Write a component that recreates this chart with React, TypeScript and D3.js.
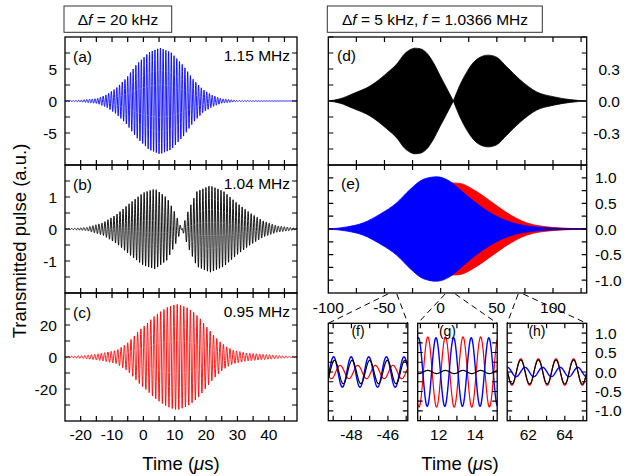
import React from "react";
import * as d3 from "d3";

const FONT = '"Liberation Sans", Arial, Helvetica, sans-serif';

// ---------- Data ----------
// Left column (Δf = 20 kHz): envelope knots (time in μs, amplitude in a.u.) and carrier (MHz)
const aFreqMHz = 1.15;
const aEnvTimes = [-25, -19.7, -14.7, -11.7, -8.7, -5.4, -2.2, 1.8, 5.3, 8.8, 12.8, 16, 19, 22, 25, 30, 49];
const aEnvAmps = [0, 0.15, 0.4, 1.0, 2.0, 3.6, 5.7, 7.6, 8.3, 7.6, 5.5, 3.3, 1.8, 0.9, 0.35, 0.08, 0];

const bFreqMHz = 1.04;
const bEnvTimes = [-25, -18, -12.8, -8.5, -4.2, 0, 3.7, 7.5, 10.1, 12.3, 14.4, 17.1, 21.3, 25.6, 29.8, 34.1, 38.3, 42.6, 49];
const bEnvAmps = [0, 0.05, 0.2, 0.46, 0.82, 1.14, 1.26, 0.98, 0.51, 0, -0.6, -1.19, -1.37, -1.19, -0.82, -0.5, -0.25, -0.1, -0.02];

const cFreqMHz = 0.95;
const cEnvTimes = [-25, -19, -14, -8.5, -5.3, -3.2, -1.1, 1.1, 3.2, 5.3, 7.5, 9.6, 11, 13.9, 16, 18.1, 20.2, 22.4, 24.5, 26.6, 28.8, 33, 39.4, 45, 49];
const cEnvAmps = [0.3, 0.9, 2.1, 4.2, 8.3, 12.5, 17.1, 20.8, 25, 28.1, 30.9, 32.5, 33, 30.9, 28, 24, 18.8, 13.6, 9.4, 6.3, 4.2, 2.5, 1.5, 0.6, 0.3];

const leftFreqLabels = ["1.15 MHz", "1.04 MHz", "0.95 MHz"];
const leftPanelLabels = ["(a)", "(b)", "(c)"];
const leftXTickLabels = [-20, -10, 0, 10, 20, 30, 40];
const aYTickLabels = [-5, 0, 5];
const bYTickLabels = [-1, 0, 1];
const cYTickLabels = [-20, 0, 20];

// Right column (Δf = 5 kHz, f = 1.0366 MHz): envelopes (first hump / second hump of (d))
const dEnvTimes1 = [-100, -89.6, -77.7, -62.9, -48, -38, -33.2, -27.3, -22.8, -18.4, -12.4, -6.5, -0.6, 5.4, 11.3];
const dEnvAmps1 = [0, 0.02, 0.07, 0.14, 0.26, 0.36, 0.43, 0.48, 0.495, 0.49, 0.45, 0.36, 0.24, 0.12, 0];
const dEnvTimes2 = [11.3, 17.2, 23.2, 29.1, 35, 42.4, 49.9, 58.8, 70.6, 85.5, 100.3, 115.1, 130];
const dEnvAmps2 = [0, 0.15, 0.27, 0.36, 0.41, 0.43, 0.41, 0.32, 0.2, 0.085, 0.04, 0.013, 0];

const eBlueTimes = [-100, -83.6, -68.8, -54, -39.2, -27.3, -15.4, -3.5, 8.3, 17.2, 29.1, 43.9, 58.8, 76.6, 100, 130];
const eBlueAmps = [0, 0.04, 0.12, 0.29, 0.51, 0.77, 0.97, 1.02, 0.93, 0.77, 0.55, 0.32, 0.16, 0.06, 0.02, 0];
const eRedTimes = [-100, -80, -60, -47, -30, -15, 0, 10, 17.2, 29.1, 43.9, 58.8, 76.6, 100, 117.6, 130];
const eRedAmps = [0, 0.02, 0.08, 0.17, 0.42, 0.68, 0.85, 0.9, 0.89, 0.77, 0.55, 0.32, 0.12, 0.03, 0.01, 0];

const rightFreqMHz = 1.0366;
const dYTickLabels = [-0.3, 0, 0.3];
const eYTickLabels = [-1, -0.5, 0, 0.5, 1];
const rightXTickLabels = [-100, -50, 0, 50, 100];

// Insets (f), (g), (h): windows and oscillation amplitude / peak time of each trace
const insetNames = ["(f)", "(g)", "(h)"];
const insetCenters = [-47.09, 13.03, 63.02];
const insetXTickLabels = [[-48, -46], [12, 14], [62, 64]];
const insetBlueAmp = [0.39, 0.88, 0.12];
const insetBluePeak = [-47.05, 12.82, 60.85];
const insetRedAmp = [0.17, 0.9, 0.34];
const insetRedPeak = [-46.69, 12.37, 62.55];
const insetBlackAmp = [0.3, 0.04, 0.31];
const insetBlackPeak = [-47.0, 12.37, 62.55];
// Time marks on panel (e) axis where the dashed zoom connectors start
const connectorTops = [[-47, -39], [4, 13], [69, 73.5]];
const insetYTickLabels = [-1, -0.5, 0, 0.5, 1];

// ---------- helpers ----------
function oscPoints(times: number[], amps: number[], freq: number, domain: number[], perCycle = 20) {
  const env = d3.scaleLinear().domain(times).range(amps).clamp(true);
  const n = Math.ceil((domain[1] - domain[0]) * freq * perCycle);
  return d3.range(n + 1).map((i) => {
    const t = domain[0] + ((domain[1] - domain[0]) * i) / n;
    return [t, env(t) * Math.sin(2 * Math.PI * freq * t)] as [number, number];
  });
}

function cosPoints(amp: number, peak: number, freq: number, domain: number[], n = 240) {
  return d3.range(n + 1).map((i) => {
    const t = domain[0] + ((domain[1] - domain[0]) * i) / n;
    return [t, amp * Math.cos(2 * Math.PI * freq * (t - peak))] as [number, number];
  });
}

function Frame({ xs, ys, xTicks, yTicks, tl = 5 }: any) {
  const [x0, x1] = xs.range();
  const [y1, y0] = ys.range();
  let d = "";
  xTicks.forEach((t: number) => {
    const x = xs(t);
    d += `M${x},${y0}V${y0 + tl}M${x},${y1}V${y1 - tl}`;
  });
  yTicks.forEach((v: number) => {
    const y = ys(v);
    d += `M${x0},${y}H${x0 + tl}M${x1},${y}H${x1 - tl}`;
  });
  return (
    <g>
      <path d={d} stroke="#000" strokeWidth={1.2} fill="none" />
      <rect x={x0} y={y0} width={x1 - x0} height={y1 - y0} fill="none" stroke="#000" strokeWidth={1.3} />
    </g>
  );
}

const fmt1 = d3.format(".1f");
const fmtMinus = (s: string) => s.replace("−", "-");
const pairs = (ts: number[], vs: number[]) => ts.map((t, i) => [t, vs[i]] as [number, number]);

export default function App() {
  const W = 635, H = 476;
  const fs = 15.5;

  // Left column scales
  const xL = d3.scaleLinear().domain([-25, 49]).range([65, 297]);
  const ya = d3.scaleLinear().domain([-10, 10]).range([165, 37]);
  const yb = d3.scaleLinear().domain([-2, 2]).range([293, 165]);
  const yc = d3.scaleLinear().domain([-40, 40]).range([421, 293]);

  // Right column scales
  const xR = d3.scaleLinear().domain([-100, 130]).range([328.3, 586.7]);
  const yd = d3.scaleLinear().domain([-0.6, 0.6]).range([165, 37]);
  const ye = d3.scaleLinear().domain([-1.25, 1.25]).range([293, 165]);

  const insetX0 = [328.3, 417.7, 507.2];
  const insetW = 79.5;
  const insetHalf = insetW / 2 / 18.25;
  const yI = d3.scaleLinear().domain([-1.25, 1.25]).range([420.7, 323.3]);
  const xIs = insetCenters.map((c, i) =>
    d3.scaleLinear().domain([c - insetHalf, c + insetHalf]).range([insetX0[i], insetX0[i] + insetW])
  );

  const dom = xL.domain();
  const aPts = oscPoints(aEnvTimes, aEnvAmps, aFreqMHz, dom);
  const bPts = oscPoints(bEnvTimes, bEnvAmps, bFreqMHz, dom);
  const cPts = oscPoints(cEnvTimes, cEnvAmps, cFreqMHz, dom);

  const lineA = d3.line<[number, number]>().x((p) => xL(p[0])).y((p) => ya(p[1]));
  const lineB = d3.line<[number, number]>().x((p) => xL(p[0])).y((p) => yb(p[1]));
  const lineC = d3.line<[number, number]>().x((p) => xL(p[0])).y((p) => yc(p[1]));

  const areaD = d3.area<[number, number]>().x((p) => xR(p[0])).y0((p) => yd(-p[1])).y1((p) => yd(p[1])).curve(d3.curveMonotoneX);
  const areaE = d3.area<[number, number]>().x((p) => xR(p[0])).y0((p) => ye(-p[1])).y1((p) => ye(p[1])).curve(d3.curveMonotoneX);

  const leftXTicks = d3.range(-20, 49, 5);
  const rightXTicks = d3.range(-75, 130, 25);

  const clip = (id: string, xs: any, ys: any) => {
    const [x0, x1] = xs.range();
    const [y1, y0] = ys.range();
    return (
      <clipPath id={id} key={id}>
        <rect x={x0} y={y0} width={x1 - x0} height={y1 - y0} />
      </clipPath>
    );
  };

  const leftPanels = [
    { ys: ya, yTicks: d3.range(-7.5, 10, 2.5), labels: aYTickLabels, path: lineA(aPts), color: "#0000ff" },
    { ys: yb, yTicks: d3.range(-1.5, 2, 0.5), labels: bYTickLabels, path: lineB(bPts), color: "#000000" },
    { ys: yc, yTicks: d3.range(-30, 40, 10), labels: cYTickLabels, path: lineC(cPts), color: "#ff0000" },
  ];

  return (
    <svg width={W} height={H} viewBox={`0 0 ${W} ${H}`} style={{ display: "block", position: "absolute", left: 0, top: 0, background: "#fff" }} fontFamily={FONT}>
      <defs>
        {clip("clipA", xL, ya)}
        {clip("clipB", xL, yb)}
        {clip("clipC", xL, yc)}
        {clip("clipD", xR, yd)}
        {clip("clipE", xR, ye)}
        {xIs.map((xs, i) => clip(`clipI${i}`, xs, yI))}
      </defs>
      <rect x={0} y={0} width={W} height={H} fill="#fff" />

      {/* Header boxes */}
      <rect x={64} y={6} width={107.7} height={26.3} fill="#fff" stroke="#333" strokeWidth={1} />
      <text x={118} y={25} fontSize={fs} textAnchor="middle">
        Δ<tspan fontStyle="italic">f</tspan> = 20 kHz
      </text>
      <rect x={327.3} y={6} width={215} height={26.3} fill="#fff" stroke="#333" strokeWidth={1} />
      <text x={435} y={25} fontSize={fs} textAnchor="middle">
        Δ<tspan fontStyle="italic">f</tspan> = 5 kHz, <tspan fontStyle="italic">f</tspan> = 1.0366 MHz
      </text>

      {/* Left column */}
      {leftPanels.map((p, i) => {
        const [, yTop] = p.ys.range();
        return (
          <g key={"L" + i}>
            <path d={p.path || ""} fill="none" stroke={p.color} strokeWidth={0.9} clipPath={`url(#clip${"ABC"[i]})`} />
            <Frame xs={xL} ys={p.ys} xTicks={leftXTicks} yTicks={p.yTicks} />
            {p.labels.map((v) => (
              <text key={v} x={57} y={p.ys(v) + 5.5} fontSize={fs} textAnchor="end">
                {String(v)}
              </text>
            ))}
            <text x={73} y={yTop + 24.5} fontSize={fs}>{leftPanelLabels[i]}</text>
            <text x={290} y={yTop + 24} fontSize={fs} textAnchor="end">{leftFreqLabels[i]}</text>
          </g>
        );
      })}
      {leftXTickLabels.map((v) => (
        <text key={"lx" + v} x={xL(v)} y={440} fontSize={fs} textAnchor="middle">{String(v)}</text>
      ))}

      {/* Right column: (d) */}
      <g clipPath="url(#clipD)" fill="#000" stroke="#000" strokeWidth={0.8}>
        <path d={areaD(pairs(dEnvTimes1, dEnvAmps1)) || ""} />
        <path d={areaD(pairs(dEnvTimes2, dEnvAmps2)) || ""} />
      </g>
      <Frame xs={xR} ys={yd} xTicks={rightXTicks} yTicks={d3.range(-0.45, 0.6, 0.15)} />
      {dYTickLabels.map((v) => (
        <text key={"dy" + v} x={620} y={yd(v) + 5.5} fontSize={fs} textAnchor="end">{fmtMinus(fmt1(v))}</text>
      ))}
      <text x={337} y={61} fontSize={fs}>(d)</text>

      {/* (e) */}
      <g clipPath="url(#clipE)">
        <path d={areaE(pairs(eRedTimes, eRedAmps)) || ""} fill="#ff0000" stroke="#ff0000" strokeWidth={0.8} />
        <path d={areaE(pairs(eBlueTimes, eBlueAmps)) || ""} fill="#0000ff" stroke="#0000ff" strokeWidth={0.8} />
        <line x1={xR(92)} x2={xR(130)} y1={ye(0)} y2={ye(0)} stroke="#3c0050" strokeWidth={1.3} />
      </g>
      <Frame xs={xR} ys={ye} xTicks={rightXTicks} yTicks={d3.range(-1, 1.01, 0.25)} />
      {eYTickLabels.map((v) => (
        <text key={"ey" + v} x={595} y={ye(v) + 5.5} fontSize={fs} textAnchor="start">{fmtMinus(fmt1(v))}</text>
      ))}
      <text x={341} y={189} fontSize={fs}>(e)</text>
      {rightXTickLabels.map((v) => (
        <text key={"rx" + v} x={xR(v)} y={313} fontSize={fs} textAnchor="middle">{String(v)}</text>
      ))}

      {/* Dashed zoom connectors */}
      {connectorTops.map((tops, i) => (
        <g key={"conn" + i} stroke="#000" strokeWidth={1} strokeDasharray="6,4" fill="none">
          <line x1={xR(tops[0])} y1={294} x2={insetX0[i]} y2={323.3} />
          <line x1={xR(tops[1])} y1={294} x2={insetX0[i] + insetW} y2={323.3} />
        </g>
      ))}

      {/* Insets */}
      {xIs.map((xs, i) => {
        const domI = xs.domain();
        const line = d3.line<[number, number]>().x((p) => xs(p[0])).y((p) => yI(p[1]));
        const red = cosPoints(insetRedAmp[i], insetRedPeak[i], rightFreqMHz, domI);
        const blue = cosPoints(insetBlueAmp[i], insetBluePeak[i], rightFreqMHz, domI);
        const black = cosPoints(insetBlackAmp[i], insetBlackPeak[i], rightFreqMHz, domI);
        const xt = d3.range(Math.ceil(domI[0]), Math.floor(domI[1]) + 1, 1);
        return (
          <g key={"inset" + i}>
            <g clipPath={`url(#clipI${i})`} fill="none">
              <path d={line(red) || ""} stroke="#ff0000" strokeWidth={1.2} />
              <path d={line(blue) || ""} stroke="#0000ff" strokeWidth={1.4} />
              <path d={line(black) || ""} stroke="#000" strokeWidth={1.2} />
            </g>
            <Frame xs={xs} ys={yI} xTicks={xt} yTicks={d3.range(-1, 1.01, 0.25)} />
            <text x={xs.range()[0] + insetW / 2 - 10} y={336} fontSize={14} textAnchor="middle">{insetNames[i]}</text>
            {insetXTickLabels[i].map((v) => (
              <text key={"ix" + v} x={xs(v)} y={440} fontSize={fs} textAnchor="middle">{String(v)}</text>
            ))}
          </g>
        );
      })}
      {insetYTickLabels.map((v) => (
        <text key={"iy" + v} x={595} y={yI(v) + 5.5} fontSize={fs} textAnchor="start">{fmtMinus(fmt1(v))}</text>
      ))}

      {/* Axis titles */}
      <text transform="translate(26,241) rotate(-90)" fontSize={18.5} textAnchor="middle">Transmitted pulse (a.u.)</text>
      <text x={181} y={470} fontSize={18.5} textAnchor="middle">
        Time (<tspan fontStyle="italic">μ</tspan>s)
      </text>
      <text x={460} y={470} fontSize={18.5} textAnchor="middle">
        Time (<tspan fontStyle="italic">μ</tspan>s)
      </text>
    </svg>
  );
}
